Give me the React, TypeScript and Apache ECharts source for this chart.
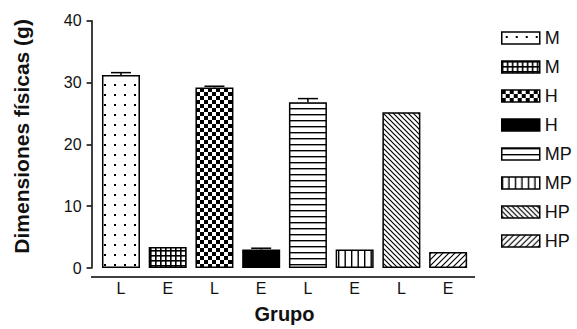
import React, { useEffect, useRef } from "react";
import * as echarts from "echarts";

const categories = ["L", "E", "L", "E", "L", "E", "L", "E"];
const seriesNames = ["M L", "M E", "H L", "H E", "MP L", "MP E", "HP L", "HP E"];
const values = [31.2, 3.4, 29.2, 3.0, 26.8, 3.0, 25.2, 2.6];
const errors = [0.4, 0, 0.2, 0.2, 0.6, 0, 0, 0];
const yTicks = [0, 10, 20, 30, 40];

function makePattern(w: number, h: number, draw: (ctx: CanvasRenderingContext2D) => void) {
  const c = document.createElement("canvas");
  c.width = w;
  c.height = h;
  const ctx = c.getContext("2d")!;
  ctx.fillStyle = "#fff";
  ctx.fillRect(0, 0, w, h);
  ctx.fillStyle = "#000";
  ctx.strokeStyle = "#000";
  draw(ctx);
  return { image: c, repeat: "repeat", imageWidth: w, imageHeight: h } as any;
}

function buildFills(): any[] {
  const dots = makePattern(10, 10, (ctx) => ctx.fillRect(4, 4, 2, 2));
  const grid = makePattern(5, 5, (ctx) => {
    ctx.fillRect(0, 0, 5, 1.6);
    ctx.fillRect(0, 0, 1.6, 5);
  });
  const checker = makePattern(8, 8, (ctx) => {
    ctx.fillRect(0, 0, 4, 4);
    ctx.fillRect(4, 4, 4, 4);
  });
  const hlines = makePattern(6, 6, (ctx) => ctx.fillRect(0, 0, 6, 1.4));
  const vlines = makePattern(13, 6, (ctx) => {
    ctx.fillRect(0, 0, 1.4, 6);
    ctx.fillRect(6.5, 0, 1.4, 6);
  });
  const back = makePattern(5, 5, (ctx) => {
    ctx.lineWidth = 1.2;
    ctx.beginPath();
    ctx.moveTo(0, 0); ctx.lineTo(5, 5);
    ctx.moveTo(-1, 4); ctx.lineTo(1, 6);
    ctx.moveTo(4, -1); ctx.lineTo(6, 1);
    ctx.stroke();
  });
  const fwd = makePattern(6, 6, (ctx) => {
    ctx.lineWidth = 1.2;
    ctx.beginPath();
    ctx.moveTo(0, 6); ctx.lineTo(6, 0);
    ctx.moveTo(-1, 1); ctx.lineTo(1, -1);
    ctx.moveTo(5, 7); ctx.lineTo(7, 5);
    ctx.stroke();
  });
  return [dots, grid, checker, "#000", hlines, vlines, back, fwd];
}

export default function App() {
  const ref = useRef<HTMLDivElement>(null);
  useEffect(() => {
    if (!ref.current) return;
    const chart = echarts.init(ref.current, null, { renderer: "svg" });
    const fills = buildFills();
    const textColor = "#111";
    const font = "'Liberation Sans', Arial, sans-serif";

    const barSeries = seriesNames.map((name, i) => ({
      name,
      type: "bar",
      stack: "all",
      barWidth: 38,
      data: values.map((v, j) => (j === i ? v : "-")),
      itemStyle: { color: fills[i], borderColor: "#000", borderWidth: 1.5 },
    }));

    const errData = values
      .map((v, i) => [i, v, v + errors[i]])
      .filter((d, i) => errors[i] > 0);

    chart.setOption({
      animation: false,
      grid: { left: 97.6, right: 105.5, top: 20.7, bottom: 52 },
      legend: {
        orient: "vertical",
        left: 501,
        top: 29,
        padding: 0,
        icon: "rect",
        itemWidth: 38,
        itemHeight: 12,
        itemGap: 11,
        data: seriesNames,
        formatter: (n: string) => n.split(" ")[0],
        textStyle: { color: textColor, fontSize: 18, fontFamily: font, lineHeight: 18 },
        itemStyle: { borderColor: "#000", borderWidth: 1.5 },
        selectedMode: false,
      },
      xAxis: {
        type: "category",
        data: categories,
        axisLine: { show: false },
        axisTick: { show: false },
        axisLabel: { color: textColor, fontSize: 16, fontFamily: font, margin: 12 },
        name: "Grupo",
        nameLocation: "middle",
        nameGap: 36,
        nameTextStyle: { color: textColor, fontSize: 20, fontWeight: "bold", fontFamily: font },
      },
      yAxis: {
        type: "value",
        min: yTicks[0],
        max: yTicks[yTicks.length - 1],
        interval: 10,
        offset: 6,
        splitLine: { show: false },
        axisLine: { show: true, lineStyle: { color: "#000", width: 1.5 } },
        axisTick: { show: true, length: 5, lineStyle: { color: "#000", width: 1.5 } },
        axisLabel: { color: textColor, fontSize: 16, fontFamily: font, margin: 10 },
        name: "Dimensiones físicas (g)",
        nameLocation: "middle",
        nameGap: 60,
        nameTextStyle: { color: textColor, fontSize: 21, fontWeight: "bold", fontFamily: font, padding: [0, 0, 0, 16] },
      },
      graphic: [
        {
          type: "line",
          shape: { x1: 91, y1: 277, x2: 475, y2: 277 },
          style: { stroke: "#000", lineWidth: 1.5 },
          z: 10,
        },
      ],
      series: [
        ...barSeries,
        {
          type: "custom",
          name: "err",
          z: 5,
          data: errData,
          encode: { x: 0, y: [1, 2] },
          renderItem: (params: any, api: any) => {
            const base = api.coord([api.value(0), api.value(1)]);
            const top = api.coord([api.value(0), api.value(2)]);
            const half = 10;
            return {
              type: "group",
              children: [
                { type: "line", shape: { x1: base[0], y1: base[1], x2: top[0], y2: top[1] }, style: { stroke: "#000", lineWidth: 1.5 } },
                { type: "line", shape: { x1: top[0] - half, y1: top[1], x2: top[0] + half, y2: top[1] }, style: { stroke: "#000", lineWidth: 1.5 } },
              ],
            };
          },
        },
      ],
    } as any);
    return () => chart.dispose();
  }, []);
  return (
    <div
      ref={ref}
      style={{ position: "fixed", left: 0, top: 0, width: 577, height: 329, background: "#fff" }}
    />
  );
}
